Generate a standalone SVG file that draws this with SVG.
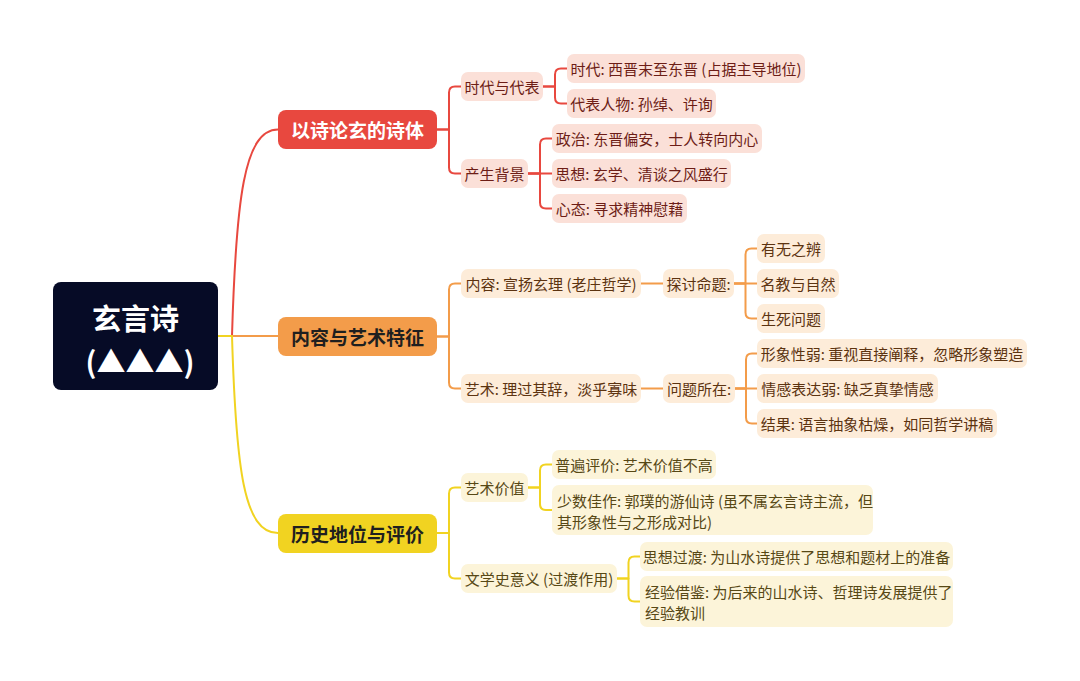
<svg xmlns="http://www.w3.org/2000/svg" width="1080" height="681" viewBox="0 0 1080 681">
<style>
text{font-family:"Noto Sans CJK SC","Noto Sans",sans-serif;dominant-baseline:central}
.c{fill:none;stroke-width:2;stroke-linecap:round;stroke-linejoin:round}
.cr{stroke:#e8483f}.co{stroke:#f39c4a}.cy{stroke:#f1d321}
.t{font-size:15px}
.m{text-anchor:middle}
.br{fill:#fbe0d8}.bo{fill:#fdecd9}.by{fill:#fcf4d9}
.tr{fill:#6d1d16}.to{fill:#5c3310}.ty{fill:#574815}
.l1{font-size:19px;font-weight:bold;text-anchor:middle}
</style>
<rect width="1080" height="681" fill="#ffffff"/>
<g id="connectors">
<path class="c cr" d="M218,336 H232 C236,200 244,129.5 278,129.5"/>
<path class="c co" d="M218,336 H278"/>
<path class="c cy" d="M218,336 H232 C236,470 244,533 278,533"/>
<path class="c cr" d="M437,129.5 H449 V92.5 Q449,86.5 455,86.5 H461"/>
<path class="c cr" d="M437,129.5 H449 V167.5 Q449,173.5 455,173.5 H461"/>
<path class="c cr" d="M543,86.5 H555 V74.5 Q555,68.5 561,68.5 H567"/>
<path class="c cr" d="M543,86.5 H555 V97.5 Q555,103.5 561,103.5 H567"/>
<path class="c cr" d="M528,173.5 H540 V144.5 Q540,138.5 546,138.5 H552"/>
<path class="c cr" d="M528,173.5 H552"/>
<path class="c cr" d="M528,173.5 H540 V202.5 Q540,208.5 546,208.5 H552"/>
<path class="c co" d="M437,336.5 H449 V289.5 Q449,283.5 455,283.5 H461"/>
<path class="c co" d="M437,336.5 H449 V382.5 Q449,388.5 455,388.5 H461"/>
<path class="c co" d="M641,283.5 H663"/>
<path class="c co" d="M641,388.5 H663"/>
<path class="c co" d="M734,283.5 H745.5 V254.5 Q745.5,248.5 751.5,248.5 H757"/>
<path class="c co" d="M734,283.5 H757"/>
<path class="c co" d="M734,283.5 H745.5 V312.5 Q745.5,318.5 751.5,318.5 H757"/>
<path class="c co" d="M735,388.5 H746 V359.5 Q746,353.5 752,353.5 H757"/>
<path class="c co" d="M735,388.5 H757"/>
<path class="c co" d="M735,388.5 H746 V417.5 Q746,423.5 752,423.5 H757"/>
<path class="c cy" d="M437,533 H449 V493.5 Q449,487.5 455,487.5 H461"/>
<path class="c cy" d="M437,533 H449 V572.5 Q449,578.5 455,578.5 H461"/>
<path class="c cy" d="M528,487.5 H540 V470.5 Q540,464.5 546,464.5 H552"/>
<path class="c cy" d="M528,487.5 H540 V504 Q540,510 546,510 H552"/>
<path class="c cy" d="M617,578.5 H628.5 V562.5 Q628.5,556.5 634.5,556.5 H640"/>
<path class="c cy" d="M617,578.5 H628.5 V595.5 Q628.5,601.5 634.5,601.5 H640"/>
</g>
<g id="root">
<rect x="53" y="282" width="165" height="108" rx="8" fill="#060b26"/>
<text x="135.5" y="317" font-size="29" font-weight="bold" fill="#ffffff" text-anchor="middle">玄言诗</text>
<text x="140" y="360" font-size="29" font-weight="bold" fill="#ffffff" text-anchor="middle">(▲▲▲)</text>
</g>
<g id="n-red">
<rect x="278" y="110" width="159" height="39" rx="8" fill="#e8483f"/>
<text class="l1" x="357.5" y="129.5" fill="#ffffff">以诗论玄的诗体</text>
</g>
<g id="n-red-1">
<rect class="br" x="461" y="72" width="82" height="29" rx="7"/>
<text class="t m tr" x="502" y="86.5">时代与代表</text>
</g>
<g id="n-red-1-1">
<rect class="br" x="567" y="54" width="238" height="29" rx="7"/>
<text class="t m tr" x="686" y="68.5">时代: 西晋末至东晋 (占据主导地位)</text>
</g>
<g id="n-red-1-2">
<rect class="br" x="567" y="89" width="149" height="29" rx="7"/>
<text class="t m tr" x="641.5" y="103.5">代表人物: 孙绰、许询</text>
</g>
<g id="n-red-2">
<rect class="br" x="461" y="159" width="67" height="29" rx="7"/>
<text class="t m tr" x="494.5" y="173.5">产生背景</text>
</g>
<g id="n-red-2-1">
<rect class="br" x="552" y="124" width="210" height="29" rx="7"/>
<text class="t m tr" x="657" y="138.5">政治: 东晋偏安，士人转向内心</text>
</g>
<g id="n-red-2-2">
<rect class="br" x="552" y="159" width="179" height="29" rx="7"/>
<text class="t m tr" x="641.5" y="173.5">思想: 玄学、清谈之风盛行</text>
</g>
<g id="n-red-2-3">
<rect class="br" x="552" y="194" width="135" height="29" rx="7"/>
<text class="t m tr" x="619.5" y="208.5">心态: 寻求精神慰藉</text>
</g>
<g id="n-orange">
<rect x="278" y="317" width="159" height="39" rx="8" fill="#f39c4a"/>
<text class="l1" x="357.5" y="336.5" fill="#1f1f1f">内容与艺术特征</text>
</g>
<g id="n-orange-1">
<rect class="bo" x="461" y="269" width="180" height="29" rx="7"/>
<text class="t m to" x="551" y="283.5">内容: 宣扬玄理 (老庄哲学)</text>
</g>
<g id="n-orange-1-1">
<rect class="bo" x="663" y="269" width="71" height="29" rx="7"/>
<text class="t m to" x="698.5" y="283.5">探讨命题:</text>
</g>
<g id="n-orange-1-1-1">
<rect class="bo" x="757" y="234" width="68" height="29" rx="7"/>
<text class="t m to" x="791" y="248.5">有无之辨</text>
</g>
<g id="n-orange-1-1-2">
<rect class="bo" x="757" y="269" width="82" height="29" rx="7"/>
<text class="t m to" x="798" y="283.5">名教与自然</text>
</g>
<g id="n-orange-1-1-3">
<rect class="bo" x="757" y="304" width="68" height="29" rx="7"/>
<text class="t m to" x="791" y="318.5">生死问题</text>
</g>
<g id="n-orange-2">
<rect class="bo" x="461" y="374" width="180" height="29" rx="7"/>
<text class="t m to" x="551" y="388.5">艺术: 理过其辞，淡乎寡味</text>
</g>
<g id="n-orange-2-1">
<rect class="bo" x="663" y="374" width="72" height="29" rx="7"/>
<text class="t m to" x="699" y="388.5">问题所在:</text>
</g>
<g id="n-orange-2-1-1">
<rect class="bo" x="757" y="339" width="270" height="29" rx="7"/>
<text class="t m to" x="892" y="353.5">形象性弱: 重视直接阐释，忽略形象塑造</text>
</g>
<g id="n-orange-2-1-2">
<rect class="bo" x="757" y="374" width="181" height="29" rx="7"/>
<text class="t m to" x="847.5" y="388.5">情感表达弱: 缺乏真挚情感</text>
</g>
<g id="n-orange-2-1-3">
<rect class="bo" x="757" y="409" width="240" height="29" rx="7"/>
<text class="t m to" x="877" y="423.5">结果: 语言抽象枯燥，如同哲学讲稿</text>
</g>
<g id="n-yellow">
<rect x="278" y="514" width="159" height="39" rx="8" fill="#f1d321"/>
<text class="l1" x="357.5" y="533.5" fill="#1f1f1f">历史地位与评价</text>
</g>
<g id="n-yellow-1">
<rect class="by" x="461" y="473" width="67" height="29" rx="7"/>
<text class="t m ty" x="494.5" y="487.5">艺术价值</text>
</g>
<g id="n-yellow-1-1">
<rect class="by" x="552" y="450" width="164" height="29" rx="7"/>
<text class="t m ty" x="634" y="464.5">普遍评价: 艺术价值不高</text>
</g>
<g id="n-yellow-1-2">
<rect class="by" x="552" y="485" width="321" height="50" rx="7"/>
<text class="t ty" x="557" y="500">少数佳作: 郭璞的游仙诗 (虽不属玄言诗主流，但</text>
<text class="t ty" x="557" y="521">其形象性与之形成对比)</text>
</g>
<g id="n-yellow-2">
<rect class="by" x="461" y="564" width="156" height="29" rx="7"/>
<text class="t m ty" x="539" y="578.5">文学史意义 (过渡作用)</text>
</g>
<g id="n-yellow-2-1">
<rect class="by" x="640" y="542" width="313" height="29" rx="7"/>
<text class="t m ty" x="796.5" y="556.5">思想过渡: 为山水诗提供了思想和题材上的准备</text>
</g>
<g id="n-yellow-2-2">
<rect class="by" x="640" y="576" width="313" height="51" rx="7"/>
<text class="t ty" x="645" y="591">经验借鉴: 为后来的山水诗、哲理诗发展提供了</text>
<text class="t ty" x="645" y="612">经验教训</text>
</g>
</svg>
